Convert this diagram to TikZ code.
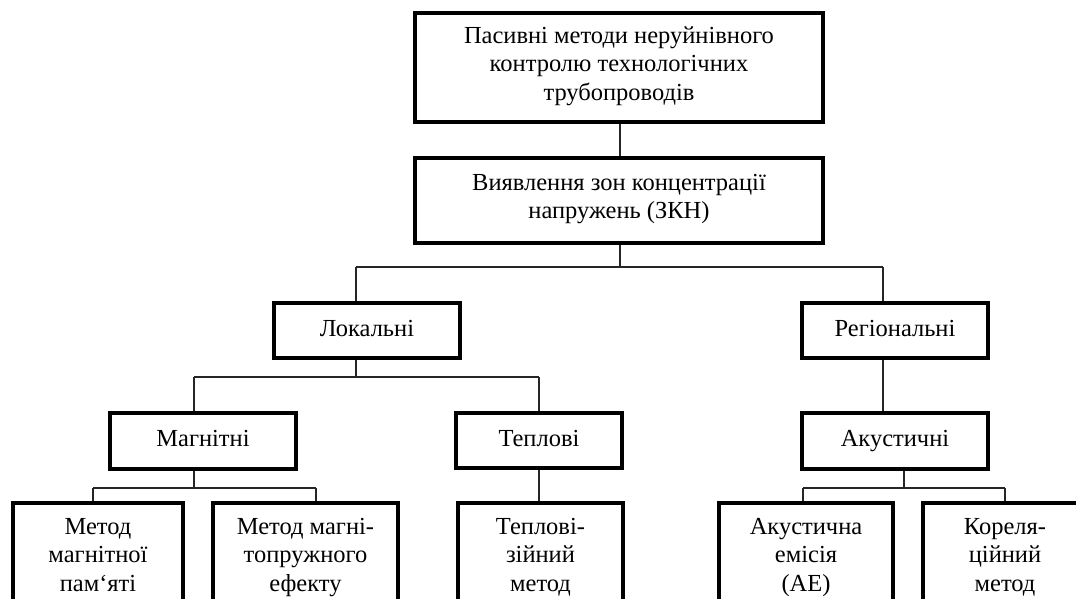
\documentclass[tikz,border=0pt]{standalone}
\usepackage{fontspec}
\setmainfont{Liberation Serif}
\begin{document}
\begin{tikzpicture}[x=1pt,y=-1pt,
  box/.style={draw=black, line width=3.8pt, rectangle, align=center, inner sep=0pt,
    font=\fontsize{24.5}{28.5}\selectfont,
    execute at begin node=\strut, execute at end node=\strut},
  leaf/.style={box, minimum height=112},
  link/.style={draw=black!85, line width=1.6pt}]
\useasboundingbox (0,0) rectangle (1076,599);
\clip (0,0) rectangle (1076,599);

% upper levels
\node[box, minimum width=408, minimum height=109] (top) at (619,67.5)
  {Пасивні методи неруйнівного\\контролю технологічних\\трубопроводів};
\node[box, minimum width=408, minimum height=85] (zkn) at (619,200.5)
  {Виявлення зон концентрації\\напружень (ЗКН)};
\node[box, minimum width=186, minimum height=55] (lok) at (367,330.5) {Локальні};
\node[box, minimum width=186, minimum height=55] (reg) at (895,330.5) {Регіональні};
\node[box, minimum width=186, minimum height=56] (mag) at (203,441) {Магнітні};
\node[box, minimum width=166, minimum height=55] (tep) at (539,440.5) {Теплові};
\node[box, minimum width=186, minimum height=56] (ak) at (895,441) {Акустичні};

% bottom level (boxes run past the lower edge)
\node[leaf, minimum width=170] (b1) at (98,559)
  {Метод\\магнітної\\пам‘яті};
\node[leaf, minimum width=185] (b2) at (305.5,559)
  {Метод магні-\\топружного\\ефекту};
\node[leaf, minimum width=165] (b3) at (540.5,559)
  {Теплові-\\зійний\\метод};
\node[leaf, minimum width=174] (b4) at (806,559)
  {Акустична\\емісія\\(АЕ)};
\node[leaf, minimum width=164] (b5) at (1005,559)
  {Кореля-\\ційний\\метод};

% junction points of the connector buses
\coordinate (aM) at (620,267);
\coordinate (aL) at (356,267);
\coordinate (aR) at (883,267);
\coordinate (bM) at (356,377);
\coordinate (bL) at (194,377);
\coordinate (bR) at (539,377);
\coordinate (cL) at (93,488);
\coordinate (cM) at (194,488);
\coordinate (cR) at (316,488);
\coordinate (dL) at (803,488);
\coordinate (dM) at (904,488);
\coordinate (dR) at (1005,488);

% connectors
\draw[link] (top.south -| aM) -- (zkn.north -| aM);
\draw[link] (zkn.south -| aM) -- (aM);
\draw[link] (aL) -- (aR);
\draw[link] (aL) -- (aL |- lok.north);
\draw[link] (aR) -- (aR |- reg.north);

\draw[link] (bM |- lok.south) -- (bM);
\draw[link] (bL) -- (bR);
\draw[link] (bL) -- (bL |- mag.north);
\draw[link] (bR) -- (bR |- tep.north);

\draw[link] (aR |- reg.south) -- (aR |- ak.north);

\draw[link] (cM |- mag.south) -- (cM);
\draw[link] (cL) -- (cR);
\draw[link] (cL) -- (cL |- b1.north);
\draw[link] (cR) -- (cR |- b2.north);

\draw[link] (tep.south -| bR) -- (b3.north -| bR);

\draw[link] (dM |- ak.south) -- (dM);
\draw[link] (dL) -- (dR);
\draw[link] (dL) -- (dL |- b4.north);
\draw[link] (dR) -- (dR |- b5.north);
\end{tikzpicture}
\end{document}
